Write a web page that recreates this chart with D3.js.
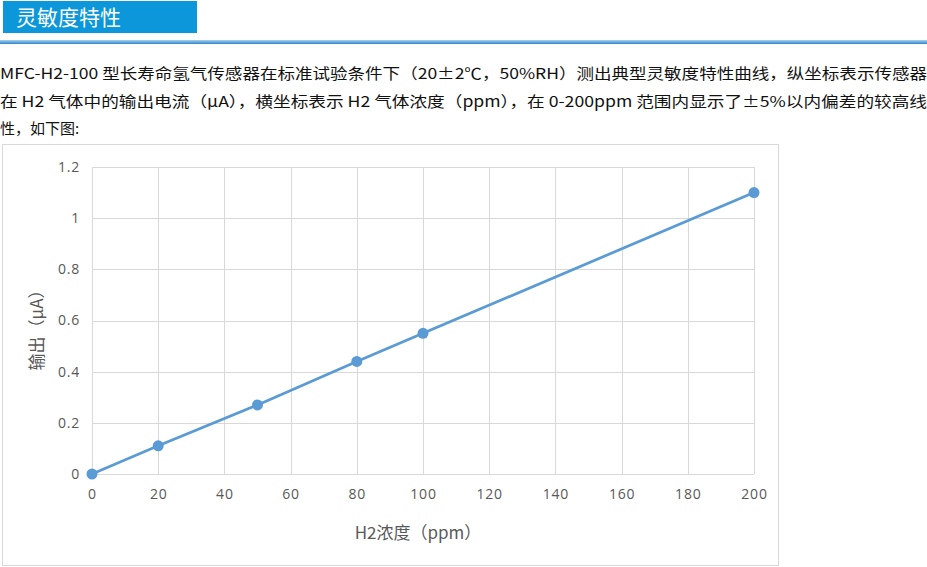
<!DOCTYPE html>
<html>
<head>
<meta charset="utf-8">
<script src="https://cdn.jsdelivr.net/npm/d3@7"></script>
<style>
  body { margin: 0; background: #fff; }
  svg { display: block; }
</style>
</head>
<body>
<svg id="chart"></svg>
<script>
// 数据
const concentration = [0, 20, 50, 80, 100, 200];
const output = [0, 0.11, 0.27, 0.44, 0.55, 1.10];
const xTicks = [0, 20, 40, 60, 80, 100, 120, 140, 160, 180, 200];
const yTicks = [0, 0.2, 0.4, 0.6, 0.8, 1, 1.2];
const bodyLines = [
  "MFC-H2-100 型长寿命氢气传感器在标准试验条件下（20±2℃，50%RH）测出典型灵敏度特性曲线，纵坐标表示传感器",
  "在 H2 气体中的输出电流（μA），横坐标表示 H2 气体浓度（ppm），在 0-200ppm 范围内显示了±5%以内偏差的较高线",
  "性，如下图:"
];

const width = 927;
const height = 567;
const cjk = "'Noto Sans CJK SC', sans-serif";

const svg = d3.select("#chart")
    .attr("width", width)
    .attr("height", height);

// 标题栏
svg.append("rect")
    .attr("x", 3).attr("y", 1)
    .attr("width", 194).attr("height", 32)
    .attr("fill", "#0b97d9");

svg.append("text")
    .attr("x", 16).attr("y", 25)
    .attr("font-family", cjk)
    .attr("font-size", 21)
    .attr("fill", "#fff")
    .text("灵敏度特性");

const grad = svg.append("defs").append("linearGradient")
    .attr("id", "rule").attr("x1", 0).attr("y1", 0).attr("x2", 0).attr("y2", 1);
grad.append("stop").attr("offset", "0%").attr("stop-color", "#a9d3f0");
grad.append("stop").attr("offset", "100%").attr("stop-color", "#2f86c8");

svg.append("rect")
    .attr("x", 0).attr("y", 40)
    .attr("width", width).attr("height", 4)
    .attr("fill", "url(#rule)");

// 正文
svg.selectAll("text.body")
    .data(bodyLines)
    .enter().append("text")
    .attr("class", "body")
    .attr("x", 0)
    .attr("y", (d, i) => 79 + i * 27.5)
    .attr("font-family", cjk)
    .attr("font-size", 15)
    .attr("fill", "#111")
    .attr("textLength", (d, i) => i < 2 ? 927 : null)
    .attr("lengthAdjust", "spacingAndGlyphs")
    .text(d => d);

// 图表外框
svg.append("rect")
    .attr("x", 2.5).attr("y", 144.5)
    .attr("width", 776).attr("height", 421)
    .attr("fill", "#fff")
    .attr("stroke", "#d9d9d9");

const x = d3.scaleLinear().domain([0, 200]).range([92, 754]);
const y = d3.scaleLinear().domain([0, 1.2]).range([474, 167]);

// 网格
const grid = svg.append("g")
    .attr("stroke", "#d9d9d9")
    .attr("stroke-width", 1);

grid.selectAll("line.h")
    .data(yTicks)
    .enter().append("line")
    .attr("x1", x(0)).attr("x2", x(200))
    .attr("y1", d => Math.round(y(d)) + 0.5)
    .attr("y2", d => Math.round(y(d)) + 0.5);

grid.selectAll("line.v")
    .data(xTicks)
    .enter().append("line")
    .attr("y1", y(1.2)).attr("y2", y(0))
    .attr("x1", d => Math.round(x(d)) + 0.5)
    .attr("x2", d => Math.round(x(d)) + 0.5);

// 坐标轴
const tickFont = "'Open Sans', 'Noto Sans', sans-serif";

const xAxis = svg.append("g")
    .attr("transform", `translate(0,${y(0)})`)
    .call(d3.axisBottom(x).tickValues(xTicks).tickSize(0).tickPadding(15));
xAxis.select(".domain").remove();
xAxis.selectAll("text")
    .attr("font-family", tickFont)
    .attr("font-size", 14)
    .attr("letter-spacing", 0.8)
    .attr("fill", "#595959");

const yAxis = svg.append("g")
    .attr("transform", `translate(${x(0)},0)`)
    .call(d3.axisLeft(y).tickValues(yTicks).tickSize(0).tickPadding(12).tickFormat(d3.format("~g")));
yAxis.select(".domain").remove();
yAxis.selectAll("text")
    .attr("font-family", tickFont)
    .attr("font-size", 14)
    .attr("letter-spacing", 0.8)
    .attr("fill", "#595959");

// 轴标题
svg.append("text")
    .attr("x", 418).attr("y", 539)
    .attr("text-anchor", "middle")
    .attr("font-family", cjk)
    .attr("font-size", 17)
    .attr("fill", "#595959")
    .text("H2浓度（ppm）");

svg.append("text")
    .attr("transform", "translate(43,326) rotate(-90)")
    .attr("text-anchor", "middle")
    .attr("font-family", cjk)
    .attr("font-size", 17)
    .attr("fill", "#595959")
    .text("输出（μA）");

// 折线与数据点
const points = concentration.map((c, i) => ({ c, v: output[i] }));

svg.append("path")
    .datum(points)
    .attr("fill", "none")
    .attr("stroke", "#5b9bd5")
    .attr("stroke-width", 2.75)
    .attr("d", d3.line().x(d => x(d.c)).y(d => y(d.v)));

svg.selectAll("circle")
    .data(points)
    .enter().append("circle")
    .attr("cx", d => x(d.c))
    .attr("cy", d => y(d.v))
    .attr("r", 5.5)
    .attr("fill", "#5b9bd5");
</script>
</body>
</html>
